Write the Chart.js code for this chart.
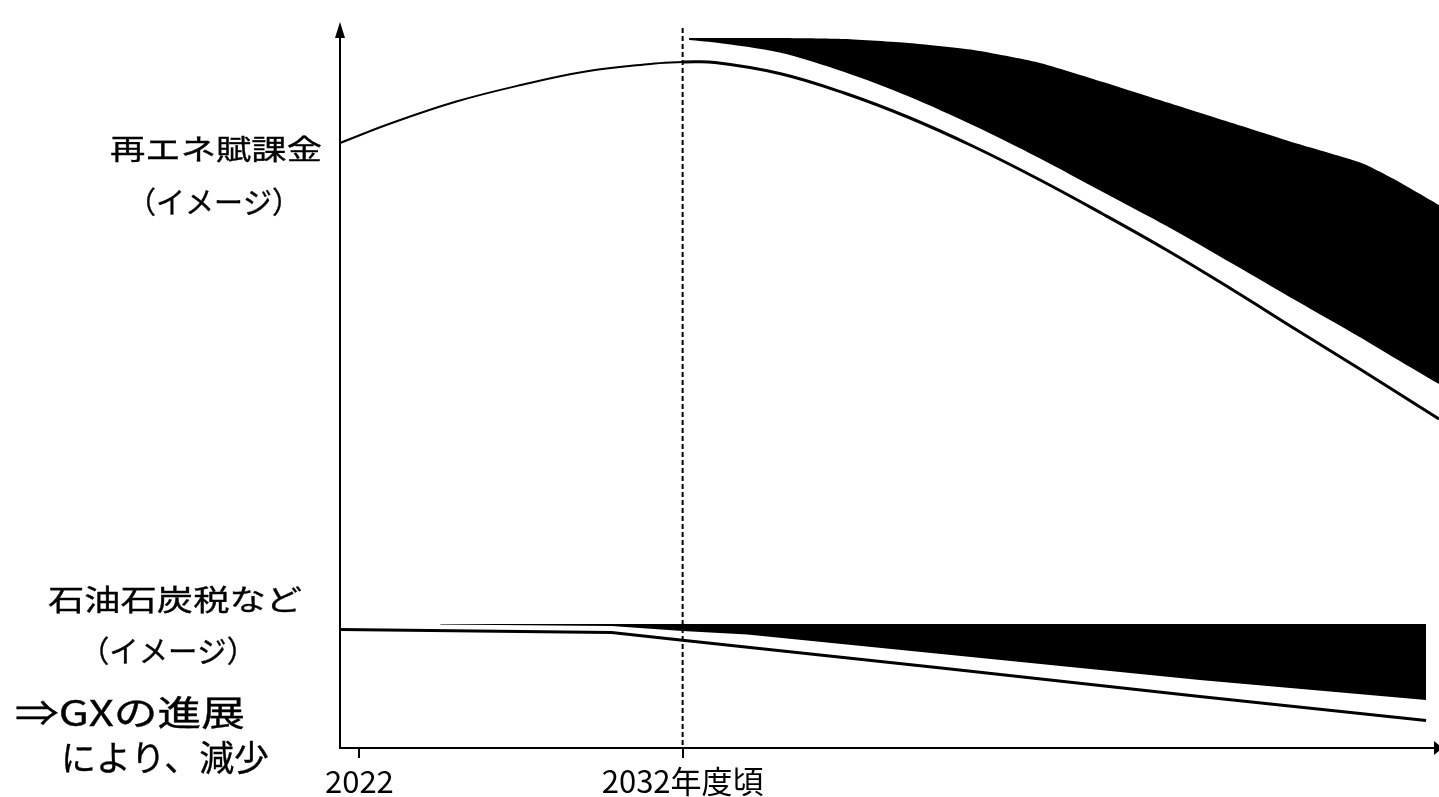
<!DOCTYPE html>
<html>
<head>
<meta charset="utf-8">
<script src="https://cdn.jsdelivr.net/npm/chart.js@4.4.1/dist/chart.umd.min.js"></script>
<style>
  html, body { margin: 0; padding: 0; background: #ffffff; }
  #wrap { width: 1439px; height: 797px; }
</style>
</head>
<body>
<div id="wrap"><canvas id="c" width="1439" height="797"></canvas></div>
<script>
// ---- Data (image units; x = fiscal year) ----
const X_TICKS = [2022, 2032];
const X_TICK_LABELS = ['2022', '2032年度頃'];

// 再エネ賦課金 (image): before / after 2032
const fitPreYears  = [2021.4, 2023, 2025, 2027, 2029, 2031, 2032];
const fitPreValues = [121, 125, 129.3, 132.6, 135.3, 136.8, 137.2];
const fitPostYears  = [2032, 2033, 2035, 2037, 2039, 2041, 2043, 2045, 2047, 2049, 2051, 2053, 2055.4];
const fitPostValues = [137.2, 137.1, 134.9, 131.0, 126.1, 120.3, 113.8, 106.8, 99.5, 91.7, 83.6, 75.6, 65.8];

// 再エネ賦課金 reduction band (black area)
const fitBandYears  = [2032.2, 2033, 2035, 2037, 2039, 2041, 2043, 2045, 2047, 2049, 2051, 2053, 2054, 2055.4];
const fitBandTop    = [142, 142, 142, 141.8, 141.0, 139.6, 137.1, 133.2, 129.1, 125, 120.9, 117, 113.8, 108.6];
const fitBandBottom = [141.6, 141.1, 139.1, 135.2, 130.3, 124.5, 118.1, 111.2, 104.3, 96.9, 89.4, 82, 78.1, 72.8];

// 石油石炭税など (image)
const taxYears  = [2021.4, 2029.8, 2032, 2040, 2048, 2055];
const taxValues = [23.7, 23.1, 21.54, 15.98, 10.3, 5.5];

// 石油石炭税 reduction band (black area)
const taxBandYears  = [2024.5, 2029.8, 2032, 2034, 2048, 2055];
const taxBandTop    = [24.8, 24.8, 24.8, 24.8, 24.8, 24.8];
const taxBandBottom = [24.7, 24.4, 23.4, 22.7, 13.6, 9.6];

const X_MIN = 2021.4, X_MAX = 2055.4;
const Y_MIN = 0, Y_MAX = 145.6;

const toXY = (xs, ys) => xs.map((x, i) => ({ x: x, y: ys[i] }));
const FONT = '"Noto Sans CJK JP", "Noto Sans", sans-serif';

const base = { pointRadius: 0, pointHoverRadius: 0, borderColor: '#000', backgroundColor: '#000' };

const datasets = [
  Object.assign({}, base, { data: toXY(fitPreYears, fitPreValues), borderWidth: 2, tension: 0.4, fill: false }),
  Object.assign({}, base, { data: toXY(fitPostYears, fitPostValues), borderWidth: 3, tension: 0.4, fill: false }),
  Object.assign({}, base, { data: toXY(fitBandYears, fitBandTop), borderWidth: 0, tension: 0.2, fill: '+1' }),
  Object.assign({}, base, { data: toXY(fitBandYears, fitBandBottom), borderWidth: 0, tension: 0.3, fill: false }),
  Object.assign({}, base, { data: toXY(taxYears, taxValues), borderWidth: 3, tension: 0, fill: false }),
  Object.assign({}, base, { data: toXY(taxBandYears, taxBandTop), borderWidth: 0, tension: 0, fill: '+1' }),
  Object.assign({}, base, { data: toXY(taxBandYears, taxBandBottom), borderWidth: 0, tension: 0, fill: false })
];

function stretchText(ctx, text, cx, cy, size, targetW) {
  ctx.save();
  ctx.font = size + 'px ' + FONT;
  ctx.textAlign = 'center';
  ctx.textBaseline = 'middle';
  ctx.fillStyle = '#000';
  ctx.strokeStyle = '#000';
  const w = ctx.measureText(text).width;
  const sx = targetW / w;
  ctx.translate(cx, cy);
  ctx.scale(sx, 1);
  ctx.lineWidth = 0.35;
  ctx.fillText(text, 0, 0);
  ctx.strokeText(text, 0, 0);
  ctx.restore();
}

const decor = {
  id: 'decor',
  afterDraw(chart) {
    const ctx = chart.ctx;
    const xs = chart.scales.x;
    const left = chart.chartArea.left, bottom = chart.chartArea.bottom;
    ctx.save();
    // y axis line + arrow
    ctx.strokeStyle = '#000';
    ctx.lineWidth = 2;
    ctx.beginPath();
    ctx.moveTo(left, bottom + 1);
    ctx.lineTo(left, 36);
    ctx.stroke();
    ctx.fillStyle = '#000';
    ctx.beginPath();
    ctx.moveTo(left, 22);
    ctx.lineTo(left - 5, 38);
    ctx.lineTo(left + 5, 38);
    ctx.closePath();
    ctx.fill();
    // x axis arrow
    ctx.beginPath();
    ctx.moveTo(1443, bottom);
    ctx.lineTo(1434, bottom - 7);
    ctx.lineTo(1434, bottom + 7);
    ctx.closePath();
    ctx.fill();
    // dashed 2032 line
    const x32 = xs.getPixelForValue(2032);
    ctx.setLineDash([5, 3]);
    ctx.lineWidth = 2;
    ctx.beginPath();
    ctx.moveTo(x32, 28);
    ctx.lineTo(x32, bottom);
    ctx.stroke();
    ctx.restore();

    // labels
    stretchText(ctx, '再エネ賦課金', 216, 149, 28, 212);
    stretchText(ctx, '（イメージ）', 214, 202, 30, 174);
    stretchText(ctx, '石油石炭税など', 175, 600, 29, 254);
    stretchText(ctx, '（イメージ）', 168, 651, 30, 176);
    stretchText(ctx, '⇒GXの進展', 130, 713, 35, 230);
    stretchText(ctx, 'により、減少', 165, 758, 35, 208);
  }
};

function build() {
  new Chart(document.getElementById('c'), {
    type: 'line',
    data: { datasets: datasets },
    options: {
      responsive: false,
      animation: false,
      events: [],
      layout: { padding: { left: 340, top: 20, right: 0, bottom: 0 } },
      plugins: { legend: { display: false }, tooltip: { enabled: false }, filler: { propagate: false } },
      scales: {
        x: {
          type: 'linear',
          min: X_MIN, max: X_MAX,
          afterFit: (s) => { s.height = 49; },
          afterBuildTicks: (s) => { s.ticks = X_TICKS.map(v => ({ value: v })); },
          ticks: {
            autoSkip: false, maxRotation: 0, minRotation: 0, padding: 5,
            color: '#000',
            font: { family: FONT, size: 31 },
            callback: (v) => { const i = X_TICKS.indexOf(v); return i >= 0 ? X_TICK_LABELS[i] : ''; }
          },
          grid: { display: true, drawOnChartArea: false, drawTicks: true, tickLength: 10, color: '#000', lineWidth: 2 },
          border: { display: true, color: '#000', width: 2 }
        },
        y: { display: false, min: Y_MIN, max: Y_MAX }
      }
    },
    plugins: [decor]
  });
}

const loads = ['28px', '29px', '30px', '31px', '35px'].map(s => document.fonts.load(s + ' "Noto Sans CJK JP"', '再エネ賦課金（イメージ）石油石炭税など⇒GXの進展により、減少2032年度頃'));
Promise.all(loads).then(build, build);
</script>
</body>
</html>
